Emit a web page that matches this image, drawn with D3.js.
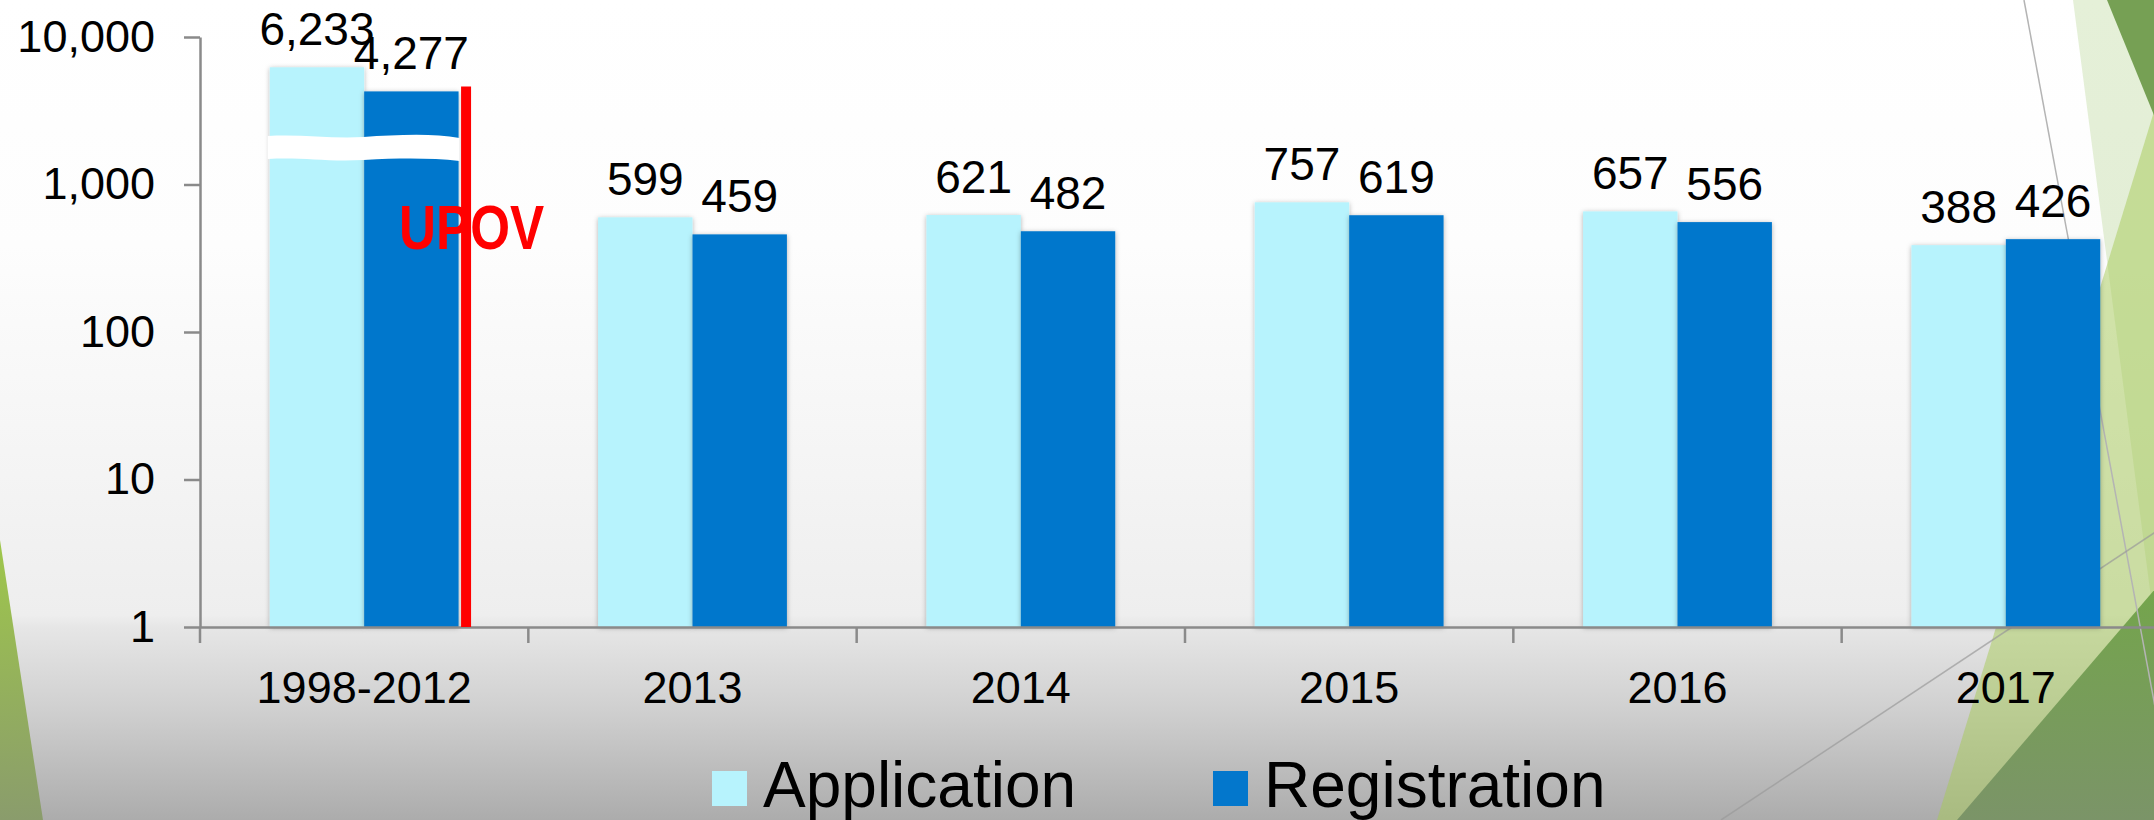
<!DOCTYPE html>
<html>
<head>
<meta charset="utf-8">
<title>Application / Registration</title>
<script src="https://cdn.jsdelivr.net/npm/d3@7"></script>
<style>
    html, body { margin: 0; padding: 0; background: #fff; }
    svg { display: block; }
    text { font-family: "Liberation Sans", Arial, sans-serif; fill: #000; }
</style>
</head>
<body>
<script>
    // chart data
    var categories = ["1998-2012", "2013", "2014", "2015", "2016", "2017"];
    var application = [6233, 599, 621, 757, 657, 388];
    var registration = [4277, 459, 482, 619, 556, 426];
    var seriesNames = ["Application", "Registration"];
    var yTicks = [1, 10, 100, 1000, 10000];

    var width = 2154, height = 820;
    var colors = {Application: "#b7f3fd", Registration: "#0377cc"};
    var axisColor = "#8a8a8a";
    var xStart = 200, xEnd = 2170, yTop = 37, yBase = 627;

    var svg = d3.select("body").append("svg")
            .attr("width", width)
            .attr("height", height);
    var defs = svg.append("defs");

    // slide background - white fading to grey at the bottom
    var bg = defs.append("linearGradient").attr("id", "bg")
            .attr("x1", 0).attr("y1", 0).attr("x2", 0).attr("y2", 1);
    [[0, "#ffffff"], [0.3, "#fdfdfd"], [0.55, "#f5f5f5"], [0.75, "#eeeeee"],
        [0.765, "#e6e6e6"], [0.86, "#d1d1d1"], [1, "#acacac"]].forEach(function (s) {
        bg.append("stop").attr("offset", s[0]).attr("stop-color", s[1]);
    });
    svg.append("rect").attr("width", width).attr("height", height).attr("fill", "url(#bg)");

    function grad(id, top, bottom) {
        var g = defs.append("linearGradient").attr("id", id)
                .attr("x1", 0).attr("y1", 0).attr("x2", 0).attr("y2", 1);
        g.append("stop").attr("offset", 0).attr("stop-color", top);
        g.append("stop").attr("offset", 1).attr("stop-color", bottom);
    }
    grad("leftGreen", "#9fc74b", "#8a9c6c");
    grad("rightGreen", "#74a54c", "#7b9468");

    // shadow for the bars
    var shadow = defs.append("filter").attr("id", "barShadow")
            .attr("x", "-10%").attr("y", "-10%").attr("width", "120%").attr("height", "120%");
    shadow.append("feDropShadow").attr("dx", 0).attr("dy", 1).attr("stdDeviation", 2.5)
            .attr("flood-color", "#000").attr("flood-opacity", 0.3);

    // theme decoration (green facets + thin lines)
    var deco = svg.append("g").attr("class", "deco");
    var poly = d3.line();
    deco.append("path").attr("d", poly([[0, 540], [43, 820], [0, 820]]) + "Z")
            .attr("fill", "url(#leftGreen)");
    deco.append("path").attr("d", poly([[2073, 0], [2160, 0], [2160, 820], [2180, 820]]) + "Z")
            .attr("fill", "rgb(168,205,125)").attr("fill-opacity", 0.3);
    deco.append("path").attr("d", poly([[2156, 105], [1937, 820], [2160, 820]]) + "Z")
            .attr("fill", "rgb(166,201,86)").attr("fill-opacity", 0.5);
    deco.append("path").attr("d", poly([[2107, 0], [2160, 0], [2160, 130]]) + "Z")
            .attr("fill", "#76a054");
    deco.append("path").attr("d", poly([[2156, 588], [1957, 820], [2160, 820]]) + "Z")
            .attr("fill", "url(#rightGreen)");
    deco.append("line").attr("x1", 2024).attr("y1", 0).attr("x2", 2176).attr("y2", 820)
            .attr("stroke", "#b4b4b4").attr("stroke-width", 1.5);
    deco.append("line").attr("x1", 2160).attr("y1", 529).attr("x2", 1721).attr("y2", 820)
            .attr("stroke", "#9a9a9a").attr("stroke-opacity", 0.7).attr("stroke-width", 1.5);

    // scales
    var x0 = d3.scaleBand().domain(categories).range([xStart, xEnd]);
    var x1 = d3.scaleBand().domain(seriesNames).range([0, x0.bandwidth()]).paddingOuter(0.739);
    var y = d3.scaleLog().domain([1, 10000]).range([yBase, yTop]);
    var fmt = d3.format(",");

    var rows = categories.map(function (c, i) {
        return seriesNames.map(function (s) {
            return {cat: c, name: s, value: s === "Application" ? application[i] : registration[i]};
        });
    });

    // bars
    var groups = svg.append("g").attr("class", "bars")
            .selectAll("g").data(rows).enter().append("g")
            .attr("transform", function (d) { return "translate(" + x0(d[0].cat) + ",0)"; });

    groups.selectAll("rect").data(function (d) { return d; }).enter().append("rect")
            .attr("x", function (d) { return x1(d.name); })
            .attr("y", function (d) { return y(d.value); })
            .attr("width", x1.bandwidth())
            .attr("height", function (d) { return yBase - y(d.value); })
            .attr("fill", function (d) { return colors[d.name]; })
            .attr("filter", "url(#barShadow)");

    // break mark on the first (tall) group
    var bx0 = x0(categories[0]) + x1("Application") - 2,
        bx1 = x0(categories[0]) + x1("Registration") + x1.bandwidth() + 1,
        bm = (bx0 + bx1) / 2;
    svg.append("path")
            .attr("d", "M" + bx0 + ",136 C" + (bx0 + 34) + ",134 " + (bm - 32) + ",139 " + bm + ",137" +
                " S" + (bx1 - 28) + ",133 " + bx1 + ",138" +
                " L" + bx1 + ",161 C" + (bx1 - 28) + ",158 " + (bm + 38) + ",158 " + bm + ",160" +
                " S" + (bx0 + 34) + ",157 " + bx0 + ",159 Z")
            .attr("fill", "#fff");

    // value labels
    groups.selectAll("text").data(function (d) { return d; }).enter().append("text")
            .attr("x", function (d) { return x1(d.name) + x1.bandwidth() / 2; })
            .attr("y", function (d) { return y(d.value) - 22; })
            .attr("text-anchor", "middle")
            .style("font-size", "46px")
            .text(function (d) { return fmt(d.value); });

    // y axis
    var yAxis = d3.axisLeft(y).tickValues(yTicks).tickFormat(fmt)
            .tickSize(16).tickSizeOuter(0).tickPadding(29);
    var yG = svg.append("g").attr("class", "y axis")
            .attr("transform", "translate(" + xStart + ",0)")
            .call(yAxis);

    // x axis - labels at band centres, ticks at band edges
    var xAxis = d3.axisBottom(x0).tickSize(0).tickSizeOuter(0).tickPadding(44);
    var xG = svg.append("g").attr("class", "x axis")
            .attr("transform", "translate(0," + yBase + ")")
            .call(xAxis);
    xG.selectAll(".edge").data(categories.concat(["end"])).enter().append("line")
            .attr("class", "edge")
            .attr("x1", function (d, i) { return xStart + i * x0.step(); })
            .attr("x2", function (d, i) { return xStart + i * x0.step(); })
            .attr("y1", 0).attr("y2", 16);

    svg.selectAll(".axis path, .axis line")
            .attr("stroke", axisColor).attr("stroke-width", 2.5);
    svg.selectAll(".axis text")
            .style("font-size", "45px")
            .style("font-family", '"Liberation Sans", Arial, sans-serif')
            .attr("fill", "#000");

    // UPOV marker
    var upovX = x0(categories[0]) + x1("Registration") + x1.bandwidth() + 7.5;
    svg.append("line")
            .attr("x1", upovX).attr("x2", upovX)
            .attr("y1", y(registration[0]) - 5).attr("y2", yBase)
            .attr("stroke", "#ff0000").attr("stroke-width", 10);
    svg.append("text")
            .attr("x", upovX - 67).attr("y", 249)
            .attr("textLength", 145).attr("lengthAdjust", "spacingAndGlyphs")
            .style("font-family", '"Liberation Sans Narrow", "Liberation Sans", sans-serif')
            .style("font-weight", "bold").style("font-size", "63px")
            .style("fill", "#ff0000")
            .text("UPOV");

    // legend
    var legendX = [712, 1213];
    var legend = svg.append("g").attr("class", "legend")
            .selectAll("g").data(seriesNames).enter().append("g")
            .attr("transform", function (d, i) { return "translate(" + legendX[i] + ",771)"; });
    legend.append("rect").attr("width", 35).attr("height", 35)
            .attr("fill", function (d) { return colors[d]; });
    legend.append("text").attr("x", 51).attr("y", 36)
            .style("font-size", "64px")
            .text(function (d) { return d; });
</script>
</body>
</html>
